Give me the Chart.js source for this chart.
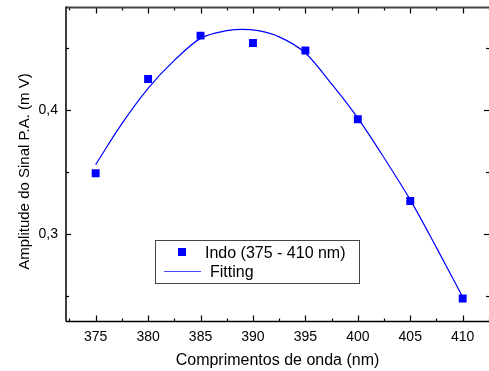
<!DOCTYPE html>
<html>
<head>
<meta charset="utf-8">
<script src="https://cdn.jsdelivr.net/npm/chart.js@4/dist/chart.umd.min.js"></script>
<style>
  html, body { margin: 0; padding: 0; background: #fff; }
</style>
</head>
<body>
<canvas id="chart" width="489" height="371"></canvas>
<script>
// measured amplitudes (squares)
const wavelengths = [375, 380, 385, 390, 395, 400, 405, 410];
const amplitudes = [0.349, 0.425, 0.460, 0.454, 0.448, 0.3925, 0.3266, 0.248];

// fitted curve
const fitWavelengths = [375, 377.5, 380, 382.5, 385, 387.5, 389, 390.5, 392.5, 395, 397.5, 400, 402.5, 405, 407.5, 410];
const fitAmplitudes = [0.356, 0.389, 0.4175, 0.440, 0.4578, 0.4640, 0.4651, 0.4640, 0.4590, 0.4460, 0.421, 0.3935, 0.3615, 0.3275, 0.289, 0.2492];

// axis ticks
const xTicks = [375, 380, 385, 390, 395, 400, 405, 410];
const xMinorTicks = [372.5, 377.5, 382.5, 387.5, 392.5, 397.5, 402.5, 407.5, 412.5];
const yTicks = [0.3, 0.4];
const yMinorTicks = [0.25, 0.35, 0.45];

const FONT = 'Liberation Sans, Arial, sans-serif';
const BLUE = '#0000ff';

function line(ctx, x1, y1, x2, y2) {
  ctx.beginPath();
  ctx.moveTo(x1, y1);
  ctx.lineTo(x2, y2);
  ctx.stroke();
}

// keep the plot box where the original has it
function noPad(s) {
  s.paddingTop = 0;
  s.paddingBottom = 0;
  s.paddingLeft = 0;
  s.paddingRight = 0;
}

// Origin-style box with inward ticks on all four sides, legend, y title
const frame = {
  id: 'frame',
  afterDraw(chart) {
    const { ctx, chartArea: a, scales: { x, y } } = chart;
    ctx.save();
    ctx.strokeStyle = '#000';
    ctx.lineWidth = 1.2;
    const xt = (list, len) => list.forEach(v => {
      if (v < x.min || v > x.max) return;
      const px = Math.round(x.getPixelForValue(v)) + 0.5;
      line(ctx, px, a.bottom, px, a.bottom - len);
      line(ctx, px, a.top, px, a.top + len);
    });
    const yt = (list, len) => list.forEach(v => {
      const py = Math.round(y.getPixelForValue(v)) + 0.5;
      line(ctx, a.left, py, a.left + len, py);
      line(ctx, a.right, py, a.right - len, py);
    });
    xt(xTicks, 6); xt(xMinorTicks, 3);
    yt(yTicks, 5); yt(yMinorTicks, 3);

    // box (the right edge falls just outside the picture)
    ctx.strokeStyle = '#444';
    ctx.lineWidth = 2;
    line(ctx, a.left, a.top, a.right, a.top);
    ctx.strokeStyle = '#000';
    ctx.lineWidth = 1.5;
    line(ctx, a.left, a.top - 1, a.left, a.bottom);
    line(ctx, a.left, a.bottom, a.right, a.bottom);

    // legend
    ctx.strokeStyle = '#444';
    ctx.lineWidth = 1;
    ctx.fillStyle = '#fff';
    ctx.fillRect(155.5, 240.5, 204, 43);
    ctx.strokeRect(155.5, 240.5, 204, 43);
    ctx.fillStyle = BLUE;
    ctx.fillRect(178, 248, 8, 8);
    ctx.strokeStyle = '#4848ff';
    ctx.lineWidth = 1;
    line(ctx, 164, 271.5, 201, 271.5);
    ctx.fillStyle = '#000';
    ctx.font = '16px ' + FONT;
    ctx.textBaseline = 'alphabetic';
    ctx.textAlign = 'left';
    ctx.fillText('Indo (375 - 410 nm)', 205, 257.5);
    ctx.fillText('Fitting', 210, 276.5);

    // y axis title
    ctx.translate(25, 171.5);
    ctx.rotate(-Math.PI / 2);
    ctx.font = '15px ' + FONT;
    ctx.textAlign = 'center';
    ctx.textBaseline = 'middle';
    ctx.fillText('Amplitude do Sinal P.A. (m V)', 0, 0);
    ctx.restore();
  }
};

const points = wavelengths.map((w, i) => ({ x: w, y: amplitudes[i] }));
const fit = fitWavelengths.map((w, i) => ({ x: w, y: fitAmplitudes[i] }));

new Chart(document.getElementById('chart'), {
  type: 'scatter',
  data: {
    datasets: [
      {
        label: 'Indo (375 - 410 nm)',
        data: points,
        pointStyle: 'rect',
        pointRadius: 5.6,
        borderWidth: 0,
        backgroundColor: BLUE,
        borderColor: BLUE
      },
      {
        label: 'Fitting',
        data: fit,
        showLine: true,
        pointRadius: 0,
        borderColor: BLUE,
        borderWidth: 1.2,
        cubicInterpolationMode: 'monotone'
      }
    ]
  },
  options: {
    responsive: false,
    animation: false,
    layout: { autoPadding: false, padding: { top: 7.5, right: 0, left: 0, bottom: 0 } },
    plugins: { legend: { display: false }, tooltip: { enabled: false } },
    scales: {
      x: {
        type: 'linear',
        min: 372.17,
        max: 412.51,
        grid: { display: false, drawTicks: false },
        border: { display: false },
        afterBuildTicks: s => { s.ticks = xTicks.map(v => ({ value: v })); },
        afterFit: s => { s.height = 49.5; noPad(s); },
        ticks: { font: { family: FONT, size: 14 }, color: '#000', padding: 7, maxRotation: 0, autoSkip: false },
        title: {
          display: true,
          text: 'Comprimentos de onda (nm)',
          font: { family: FONT, size: 16 },
          color: '#000',
          padding: { top: 0, bottom: 1 }
        }
      },
      y: {
        min: 0.2294,
        max: 0.4827,
        grid: { display: false, drawTicks: false },
        border: { display: false },
        afterBuildTicks: s => { s.ticks = yTicks.map(v => ({ value: v })); },
        afterFit: s => { s.width = 66; noPad(s); },
        ticks: {
          font: { family: FONT, size: 14 },
          color: '#000',
          padding: 8,
          callback: v => v.toFixed(1).replace('.', ',')
        }
      }
    }
  },
  plugins: [frame]
});
</script>
</body>
</html>
